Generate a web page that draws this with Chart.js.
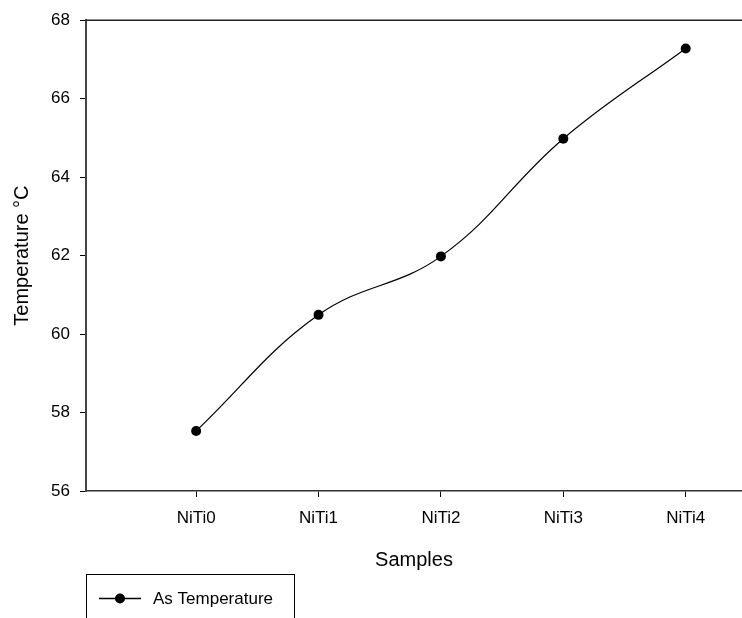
<!DOCTYPE html>
<html>
<head>
<meta charset="utf-8">
<script src="https://cdn.jsdelivr.net/npm/chart.js@4"></script>
<style>
    html, body { margin: 0; padding: 0; background: #fff; overflow: hidden; }
    canvas { display: block; }
</style>
</head>
<body>
<canvas id="chartTemperature" width="742" height="618"></canvas>
<script>
const samples = ['NiTi0', 'NiTi1', 'NiTi2', 'NiTi3', 'NiTi4'];
const asTemperature = [57.53, 60.49, 61.98, 64.98, 67.28];
const yTicks = [56, 58, 60, 62, 64, 66, 68];

const fontName = "'Liberation Sans', Arial, sans-serif";

// frame line on top of the plot and the boxed legend under the axis
const framePlugin = {
    id: 'frame',
    afterDraw(chart) {
        const ctx = chart.ctx;
        const area = chart.chartArea;
        ctx.save();
        ctx.strokeStyle = '#222';
        ctx.lineWidth = 1.5;
        ctx.beginPath();
        ctx.moveTo(area.left, area.top);
        ctx.lineTo(chart.width, area.top);
        ctx.stroke();

        const ds = chart.data.datasets[0];
        ctx.lineWidth = 1;
        ctx.strokeStyle = '#000';
        ctx.strokeRect(86.5, 574.5, 208, 60);
        ctx.lineWidth = 1.3;
        ctx.beginPath();
        ctx.moveTo(99, 598.5);
        ctx.lineTo(141, 598.5);
        ctx.stroke();
        ctx.fillStyle = '#000';
        ctx.beginPath();
        ctx.arc(120, 598.5, 5, 0, Math.PI * 2);
        ctx.fill();
        ctx.font = '17px ' + fontName;
        ctx.textBaseline = 'middle';
        ctx.fillText(ds.label, 153, 599);
        ctx.restore();
    }
};

function initChart() {
    let points = samples.map((s, i) => ({ x: i, y: asTemperature[i] }));

    new Chart(document.getElementById('chartTemperature'), {
        type: 'line',
        data: {
            datasets: [
                {
                    label: 'As Temperature',
                    data: points,
                    borderColor: '#000',
                    borderWidth: 1.2,
                    backgroundColor: '#000',
                    pointRadius: 5,
                    pointBorderWidth: 0,
                    tension: 0.4,
                    fill: false
                }
            ]
        },
        options: {
            responsive: false,
            animation: false,
            layout: {
                autoPadding: false,
                padding: { top: 19, right: 0, left: 0, bottom: 0 }
            },
            plugins: {
                legend: { display: false },
                tooltip: { enabled: false }
            },
            scales: {
                x: {
                    type: 'linear',
                    min: -0.9,
                    max: 4.46,
                    afterBuildTicks: (scale) => {
                        scale.ticks = samples.map((s, i) => ({ value: i }));
                    },
                    afterFit: (scale) => {
                        scale.height = 127;
                        scale.paddingRight = 0;
                    },
                    ticks: {
                        callback: (v) => samples[v],
                        color: '#000',
                        padding: 11,
                        maxRotation: 0,
                        font: { family: fontName, size: 17 }
                    },
                    grid: { drawOnChartArea: false, tickLength: 6, color: '#000' },
                    border: { color: '#333', width: 1.5 },
                    title: {
                        display: true,
                        text: 'Samples',
                        color: '#000',
                        padding: { top: 0, bottom: 46 },
                        font: { family: fontName, size: 20 }
                    }
                },
                y: {
                    min: 56,
                    max: 68,
                    afterBuildTicks: (scale) => {
                        scale.ticks = yTicks.map(v => ({ value: v }));
                    },
                    afterFit: (scale) => { scale.width = 86; },
                    ticks: {
                        color: '#000',
                        padding: 10,
                        font: { family: fontName, size: 17 }
                    },
                    grid: { drawOnChartArea: false, tickLength: 6, color: '#000' },
                    border: { color: '#444', width: 2 },
                    title: {
                        display: true,
                        text: 'Temperature °C',
                        color: '#000',
                        padding: { top: 10.5, bottom: 0 },
                        font: { family: fontName, size: 20 }
                    }
                }
            }
        },
        plugins: [framePlugin]
    });
}

window.addEventListener('load', initChart);
</script>
</body>
</html>
